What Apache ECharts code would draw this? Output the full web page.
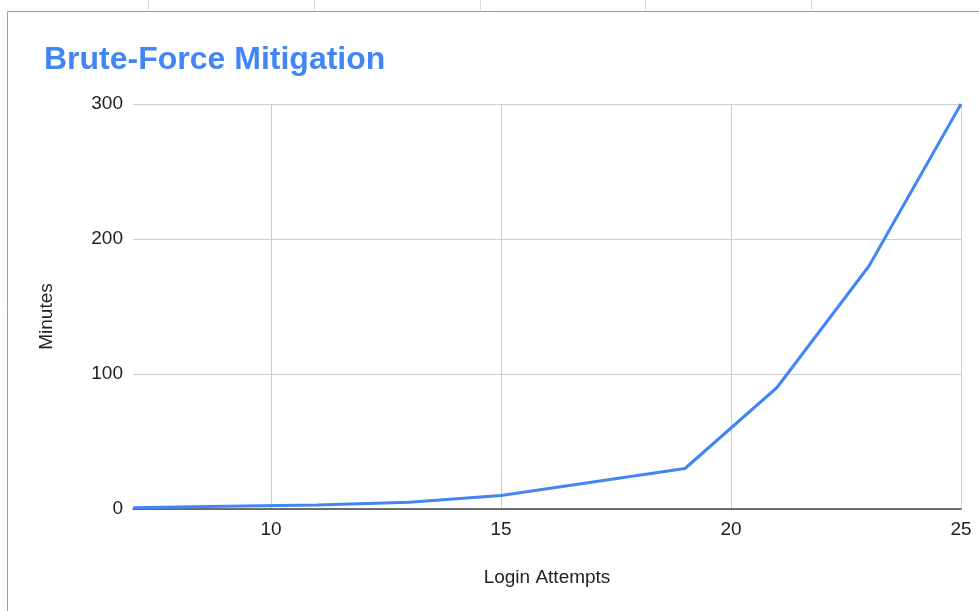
<!DOCTYPE html>
<html>
<head>
<meta charset="utf-8">
<script src="https://cdn.jsdelivr.net/npm/echarts@6/dist/echarts.min.js"></script>
<style>
  html, body { margin: 0; padding: 0; background: #fff; }
  #chart { width: 979px; height: 611px; }
</style>
</head>
<body>
<div id="chart"></div>
<script>
// login attempts vs. lockout minutes
const attempts = [7, 9, 11, 13, 15, 17, 19, 21, 23, 25]
const minutes = [1, 2, 3, 5, 10, 20, 30, 90, 180, 300]
const xTicks = [10, 15, 20, 25]
const sheetCols = [148, 314, 480, 645, 811]

let myChart = echarts.init(document.getElementById('chart'))

const font = 'Arial, "Liberation Sans", sans-serif'

let graphics = [
  { type: 'line', silent: true, shape: { x1: 7.5, y1: 11.5, x2: 979, y2: 11.5 }, style: { stroke: '#9e9e9e', lineWidth: 1 } },
  { type: 'line', silent: true, shape: { x1: 7.5, y1: 11.5, x2: 7.5, y2: 611 }, style: { stroke: '#9e9e9e', lineWidth: 1 } }
]
sheetCols.forEach(function (x) {
  graphics.push({ type: 'line', silent: true, shape: { x1: x + 0.5, y1: 0, x2: x + 0.5, y2: 10 }, style: { stroke: '#dadada', lineWidth: 1 } })
})

let option = {
  backgroundColor: '#fff',
  animation: false,
  title: {
    text: 'Brute-Force Mitigation',
    left: 39,
    top: 39,
    textStyle: { color: '#4285F4', fontSize: 32, fontWeight: 'bold', fontFamily: font }
  },
  graphic: graphics,
  grid: { left: 133, right: 18, top: 104, bottom: 102 },
  xAxis: {
    type: 'value',
    min: 7,
    max: 25,
    name: 'Login Attempts',
    nameLocation: 'middle',
    nameGap: 59,
    nameTextStyle: { color: '#222', fontSize: 19, fontFamily: font },
    axisLine: { show: true, lineStyle: { color: '#444', width: 1.5 } },
    axisTick: { show: false, customValues: xTicks },
    axisLabel: {
      customValues: xTicks,
      color: '#222', fontSize: 19, fontFamily: font, margin: 11
    },
    splitLine: { show: true, lineStyle: { color: '#cccccc', width: 1 } }
  },
  yAxis: {
    type: 'value',
    min: 0,
    max: 300,
    interval: 100,
    name: 'Minutes',
    nameLocation: 'middle',
    nameGap: 77,
    nameRotate: 90,
    nameTextStyle: { color: '#222', fontSize: 19, fontFamily: font, padding: [0, 20, 0, 0] },
    axisLine: { show: false },
    axisTick: { show: false },
    axisLabel: { color: '#222', fontSize: 19, fontFamily: font, margin: 10 },
    splitLine: { show: true, lineStyle: { color: '#cccccc', width: 1 } }
  },
  series: [
    {
      name: 'Minutes',
      type: 'line',
      data: attempts.map(function (a, i) { return [a, minutes[i]] }),
      showSymbol: false,
      symbol: 'none',
      lineStyle: { color: '#4285F4', width: 3 },
      itemStyle: { color: '#4285F4' }
    }
  ]
}

myChart.setOption(option)
</script>
</body>
</html>
